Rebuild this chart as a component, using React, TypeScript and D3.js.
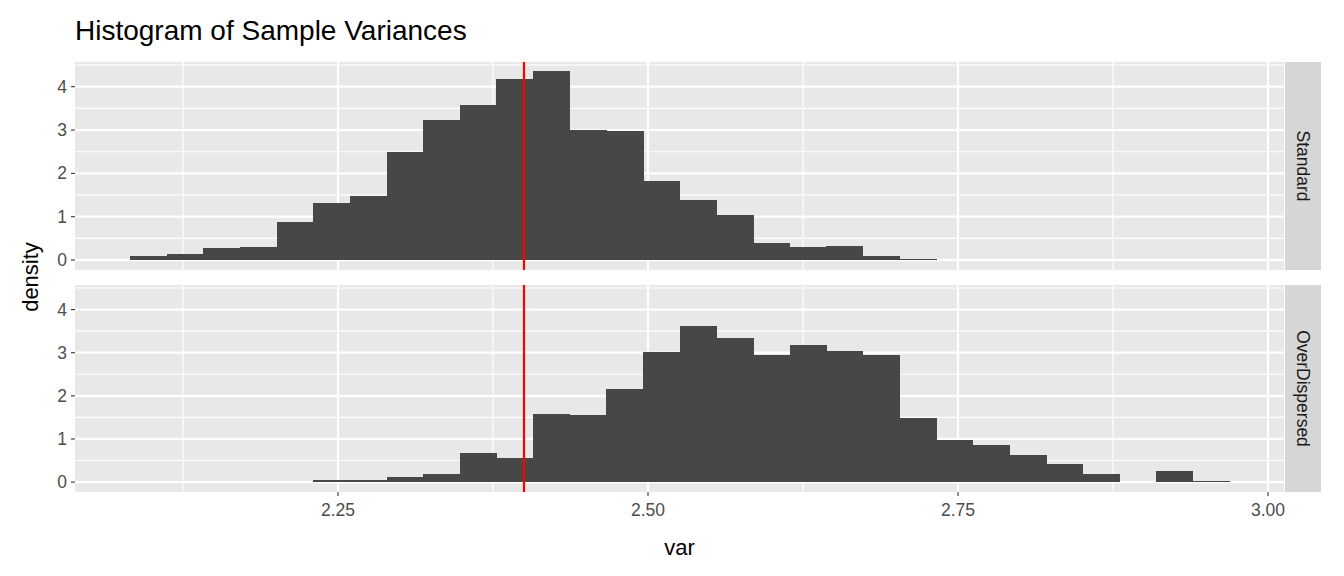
import React from "react";
import * as d3 from "d3";

const binStart = 2.0823;
const binWidth = 0.02955;
const standard = [0.09,0.14,0.28,0.30,0.88,1.32,1.48,2.49,3.23,3.58,4.18,4.36,3.0,2.98,1.82,1.38,1.04,0.39,0.30,0.32,0.09,0.02];
const overDispersed = [0,0,0,0,0,0.04,0.04,0.11,0.18,0.68,0.57,1.58,1.56,2.16,3.02,3.62,3.34,2.95,3.18,3.04,2.95,1.49,0.98,0.87,0.62,0.43,0.18,0,0.25,0.02];
const xTicks = [2.25, 2.5, 2.75, 3.0];
const yTicks = [0, 1, 2, 3, 4];
const refLine = 2.4;

const W = 1344, H = 576;
const L = 75, R = 1284;
const panels = [
  { name: "Standard", data: standard, top: 62, bottom: 270 },
  { name: "OverDispersed", data: overDispersed, top: 285, bottom: 492 },
];

export default function App() {
  const x = d3.scaleLinear().domain([2.0379, 3.0129]).range([L, R]);
  const minorX = d3.range(2.125, 3.01, 0.25);
  const font = "Liberation Sans, Arial, sans-serif";
  return (
    <svg width={W} height={H} style={{ position: "absolute", left: 0, top: 0 }} fontFamily={font}>
      <rect width={W} height={H} fill="#fff" />
      <text x={75} y={40} fontSize={28} fill="#000">Histogram of Sample Variances</text>
      {panels.map((p) => {
        const y = d3.scaleLinear().domain([-0.23, 4.57]).range([p.bottom, p.top]);
        return (
          <g key={p.name}>
            <rect x={L} y={p.top} width={R - L} height={p.bottom - p.top} fill="#e8e8e8" />
            {minorX.map((v) => (
              <line key={"mx" + v} x1={x(v)} x2={x(v)} y1={p.top} y2={p.bottom} stroke="#fff" strokeWidth={1.1} />
            ))}
            {yTicks.map((v) => (
              <line key={"my" + v} x1={L} x2={R} y1={y(v + 0.5)} y2={y(v + 0.5)} stroke="#fff" strokeWidth={1.1} />
            ))}
            {xTicks.map((v) => (
              <line key={"gx" + v} x1={x(v)} x2={x(v)} y1={p.top} y2={p.bottom} stroke="#fff" strokeWidth={2.2} />
            ))}
            {yTicks.map((v) => (
              <g key={"gy" + v}>
                <line x1={L} x2={R} y1={y(v)} y2={y(v)} stroke="#fff" strokeWidth={2.2} />
                <line x1={L - 4} x2={L} y1={y(v)} y2={y(v)} stroke="#333" strokeWidth={1.1} />
                <text x={L - 8} y={y(v) + 6} fontSize={17.5} fill="#4d4d4d" textAnchor="end">{v}</text>
              </g>
            ))}
            {p.data.map((d, i) =>
              d > 0 ? (
                <rect key={i} x={x(binStart + i * binWidth)} width={x(binStart + (i + 1) * binWidth) - x(binStart + i * binWidth) + 0.6}
                  y={y(d)} height={y(0) - y(d)} fill="#474747" shapeRendering="crispEdges" />
              ) : null
            )}
            <line x1={x(refLine)} x2={x(refLine)} y1={p.top} y2={p.bottom} stroke="#ff0000" strokeWidth={2.2} />
            <rect x={R + 1} y={p.top} width={36} height={p.bottom - p.top} fill="#d6d6d6" />
            <text transform={`translate(${R + 19},${(p.top + p.bottom) / 2}) rotate(90)`} fontSize={17.5} fill="#1a1a1a"
              textAnchor="middle" dominantBaseline="central">{p.name}</text>
          </g>
        );
      })}
      {xTicks.map((v) => (
        <g key={"xt" + v}>
          <line x1={x(v)} x2={x(v)} y1={492} y2={496} stroke="#333" strokeWidth={1.1} />
          <text x={x(v)} y={516} fontSize={17.5} fill="#4d4d4d" textAnchor="middle">{v.toFixed(2)}</text>
        </g>
      ))}
      <text x={(L + R) / 2} y={555} fontSize={22} textAnchor="middle" fill="#000">var</text>
      <text transform={`translate(38,277) rotate(-90)`} fontSize={22} textAnchor="middle" fill="#000">density</text>
    </svg>
  );
}
